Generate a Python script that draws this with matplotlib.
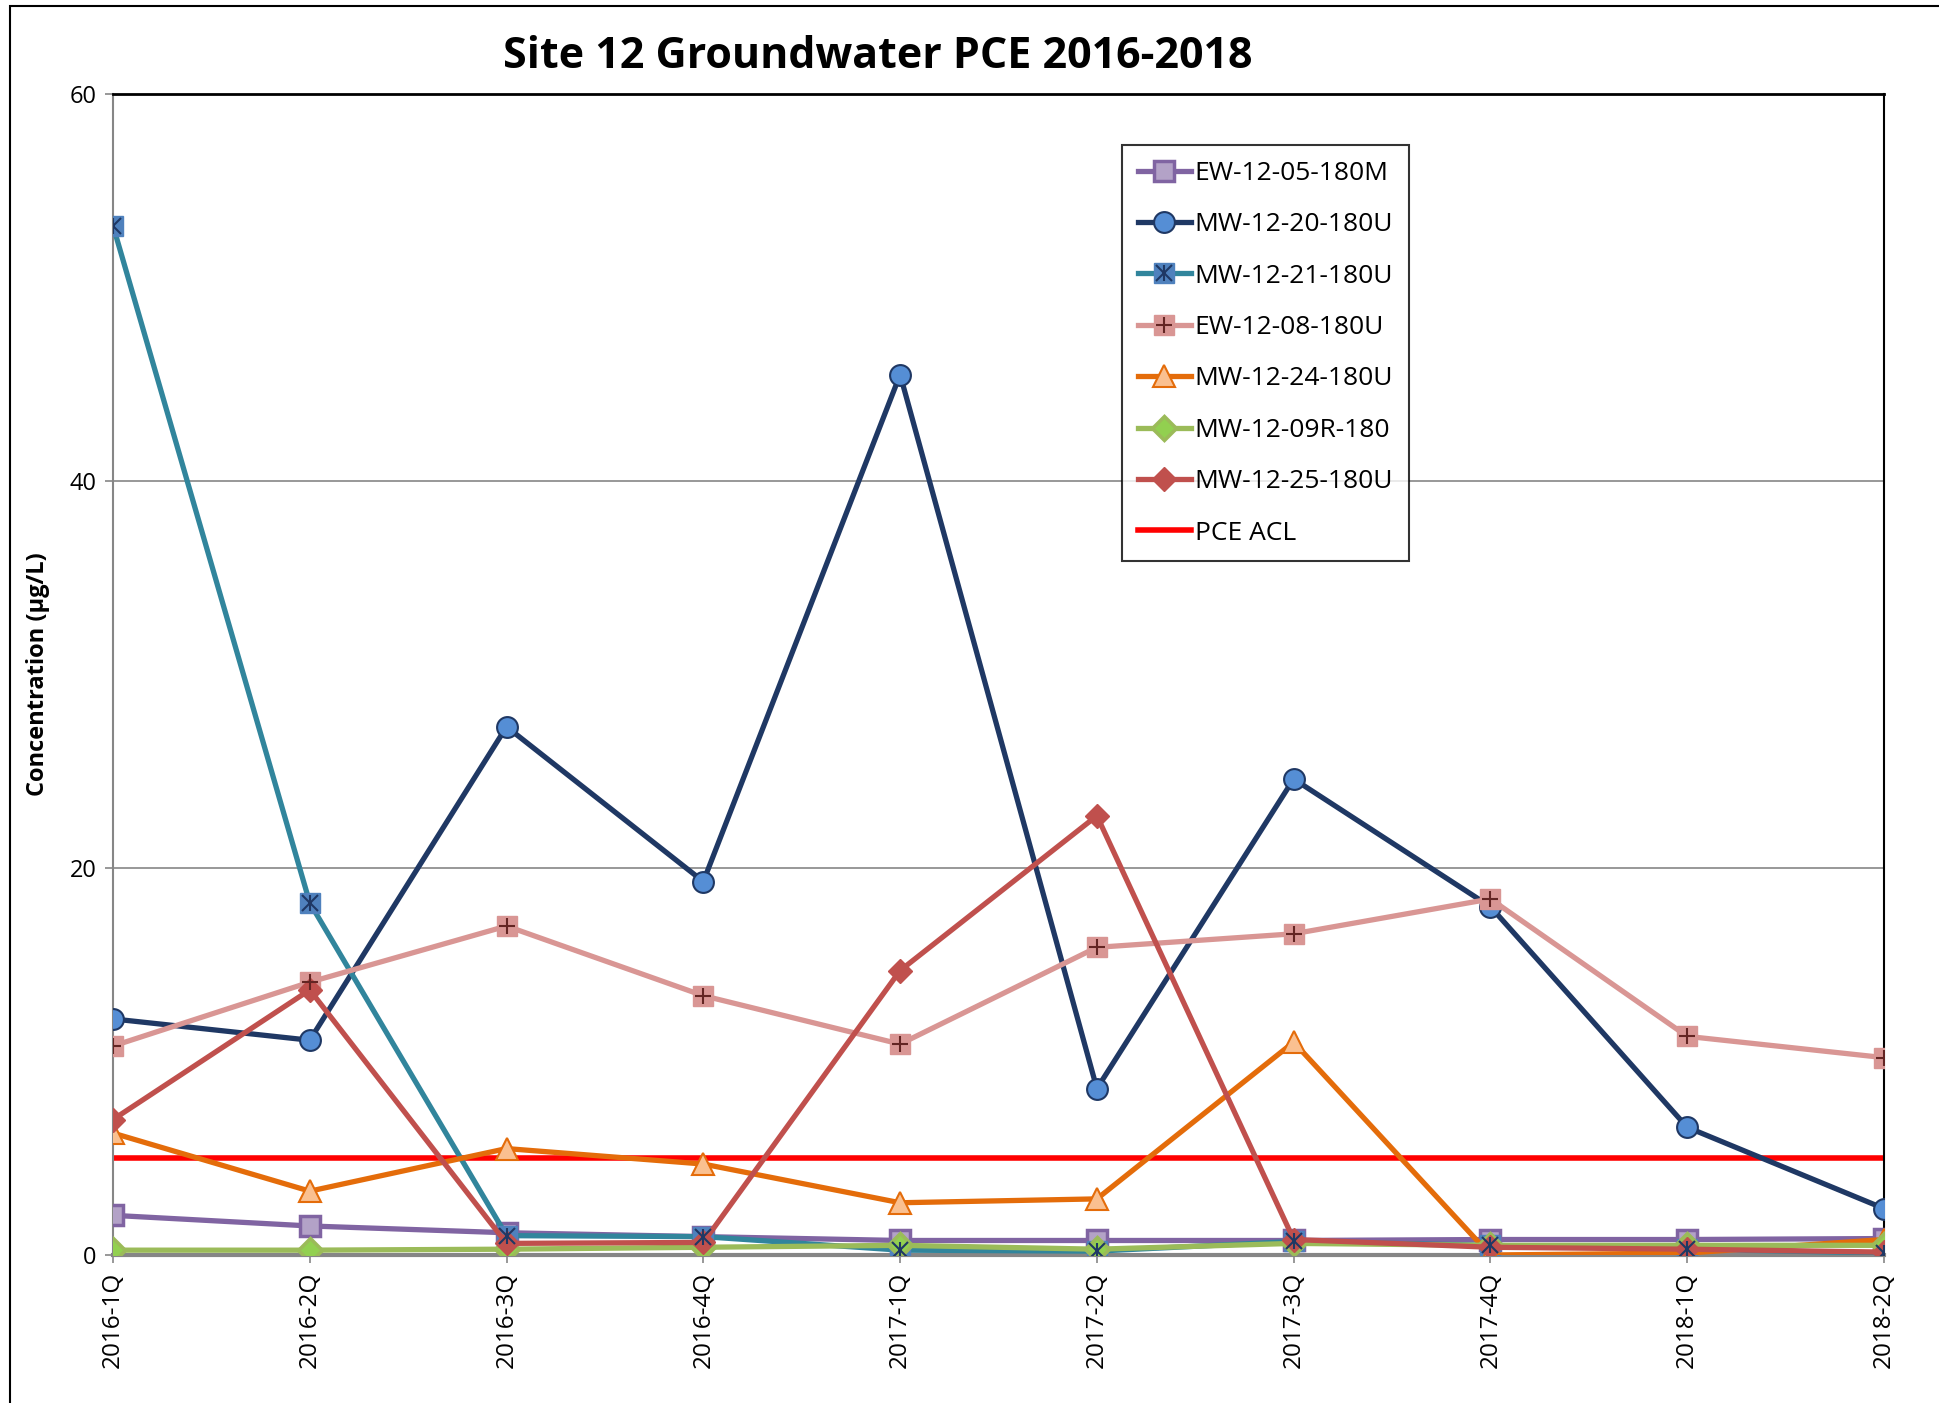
import matplotlib
matplotlib.use("Agg")
import matplotlib.pyplot as plt
from matplotlib.patches import Rectangle

quarters = ["2016-1Q", "2016-2Q", "2016-3Q", "2016-4Q", "2017-1Q", "2017-2Q",
            "2017-3Q", "2017-4Q", "2018-1Q", "2018-2Q"]

ew_12_05_180m = [2.05, 1.5, 1.15, 0.95, 0.75, 0.75, 0.75, 0.8, 0.8, 0.85]
mw_12_20_180u = [12.2, 11.1, 27.3, 19.3, 45.5, 8.6, 24.6, 18.0, 6.6, 2.4]
mw_12_21_180u = [53.2, 18.2, 1.0, 0.95, 0.25, 0.2, 0.7, 0.5, 0.3, 0.1]
ew_12_08_180u = [10.8, 14.1, 17.0, 13.4, 10.9, 15.9, 16.6, 18.4, 11.3, 10.2]
mw_12_24_180u = [6.3, 3.3, 5.5, 4.7, 2.7, 2.9, 11.0, 0.0, 0.1, 0.8]
mw_12_09r_180 = [0.25, 0.25, 0.3, 0.4, 0.5, 0.3, 0.6, 0.5, 0.5, 0.5]
mw_12_25_180u = [7.0, 13.7, 0.6, 0.65, 14.7, 22.7, 0.8, 0.4, 0.3, 0.15]
pce_acl = 5.0

yticks = [0, 20, 40, 60]

plt.rcParams['font.family'] = ['Open Sans', 'DejaVu Sans']

fig = plt.figure(figsize=(19.4, 14.03), dpi=100)
ax = fig.add_axes([113/1940, 1 - 1255/1403, (1884-113)/1940, (1255-94)/1403])

x = list(range(len(quarters)))
lw = 3.8
ms = 14

series = [
    ("EW-12-05-180M", ew_12_05_180m, dict(color="#8064A2", marker="s", mfc="#B3A2C7", mec="#8064A2", ms=ms, mew=2.5)),
    ("MW-12-20-180U", mw_12_20_180u, dict(color="#1F3864", marker="o", mfc="#558ED5", mec="#1F3864", ms=ms+1, mew=1.5)),
    ("MW-12-21-180U", mw_12_21_180u, dict(color="#31859C", marker="s", mfc="#4F81BD", mec="#4F81BD", ms=ms, mew=1)),
    ("EW-12-08-180U", ew_12_08_180u, dict(color="#D99694", marker="s", mfc="#D99694", mec="#D99694", ms=ms, mew=1)),
    ("MW-12-24-180U", mw_12_24_180u, dict(color="#E46C0A", marker="^", mfc="#FAC090", mec="#E46C0A", ms=ms+2, mew=1.5)),
    ("MW-12-09R-180", mw_12_09r_180, dict(color="#9BBB59", marker="D", mfc="#92D050", mec="#9BBB59", ms=ms-2, mew=2.5)),
    ("MW-12-25-180U", mw_12_25_180u, dict(color="#C0504D", marker="D", mfc="#C0504D", mec="#C0504D", ms=ms-2, mew=1)),
]

handles = []
for name, vals, st in series:
    h, = ax.plot(x, vals, lw=lw, label=name, zorder=3, **st)
    if name == "MW-12-21-180U":
        o1, = ax.plot(x, vals, ls="none", marker="x", ms=ms-3, mec="#1F3864", mew=1.5, zorder=3.1)
        o2, = ax.plot(x, vals, ls="none", marker="|", ms=ms-3, mec="#1F3864", mew=1.5, zorder=3.1)
        handles.append((h, o1, o2))
    elif name == "EW-12-08-180U":
        o, = ax.plot(x, vals, ls="none", marker="+", ms=ms-2, mec="#632523", mew=1.5, zorder=3.1)
        handles.append((h, o))
    else:
        handles.append(h)

acl = ax.axhline(pce_acl, color="#FF0000", lw=4, label="PCE ACL", zorder=2.5)
handles.append(acl)
labels = [s[0] for s in series] + ["PCE ACL"]

ax.set_xlim(0, len(quarters) - 1)
ax.set_ylim(0, 60)
ax.set_yticks(yticks)
ax.set_yticklabels([str(v) for v in yticks], fontsize=17)
ax.set_xticks(x)
ax.set_xticklabels(quarters, rotation=90, fontsize=17.5)
ax.tick_params(axis='both', color="#868686", length=6, width=1.2, pad=6)
ax.grid(axis='y', color="#868686", lw=1.2, zorder=1)
ax.set_axisbelow(True)

for s in ["left", "bottom"]:
    ax.spines[s].set_color("#868686")
ax.spines["left"].set_linewidth(1.5)
ax.spines["bottom"].set_linewidth(3)
ax.spines["top"].set_color("black")
ax.spines["top"].set_linewidth(2)
ax.spines["right"].set_color("black")
ax.spines["right"].set_linewidth(1.5)
for sp in ax.spines.values():
    sp.set_clip_on(False)

ax.set_ylabel("Concentration (\u00b5g/L)", fontsize=17, fontweight="bold", labelpad=14)

fig.text(878/1940, 1 - 56/1403, "Site 12 Groundwater PCE 2016-2018", ha="center", va="center",
         fontsize=31, fontweight="bold")

leg = ax.legend(handles=handles, labels=labels, loc="upper left",
                bbox_to_anchor=((1122-113)/(1884-113), (1255-145)/(1255-94)),
                fontsize=19, frameon=True, fancybox=False, edgecolor="black",
                borderpad=0.6, labelspacing=1.0, handlelength=2.0, handletextpad=0.15,
                borderaxespad=0)
leg.get_frame().set_linewidth(1.5)

fig.add_artist(Rectangle((10/1940, -0.01), 1.5, 1 - 6/1403 + 0.01, transform=fig.transFigure,
                         fill=False, edgecolor="black", lw=1.5))

fig.savefig("out.png", dpi=100)
